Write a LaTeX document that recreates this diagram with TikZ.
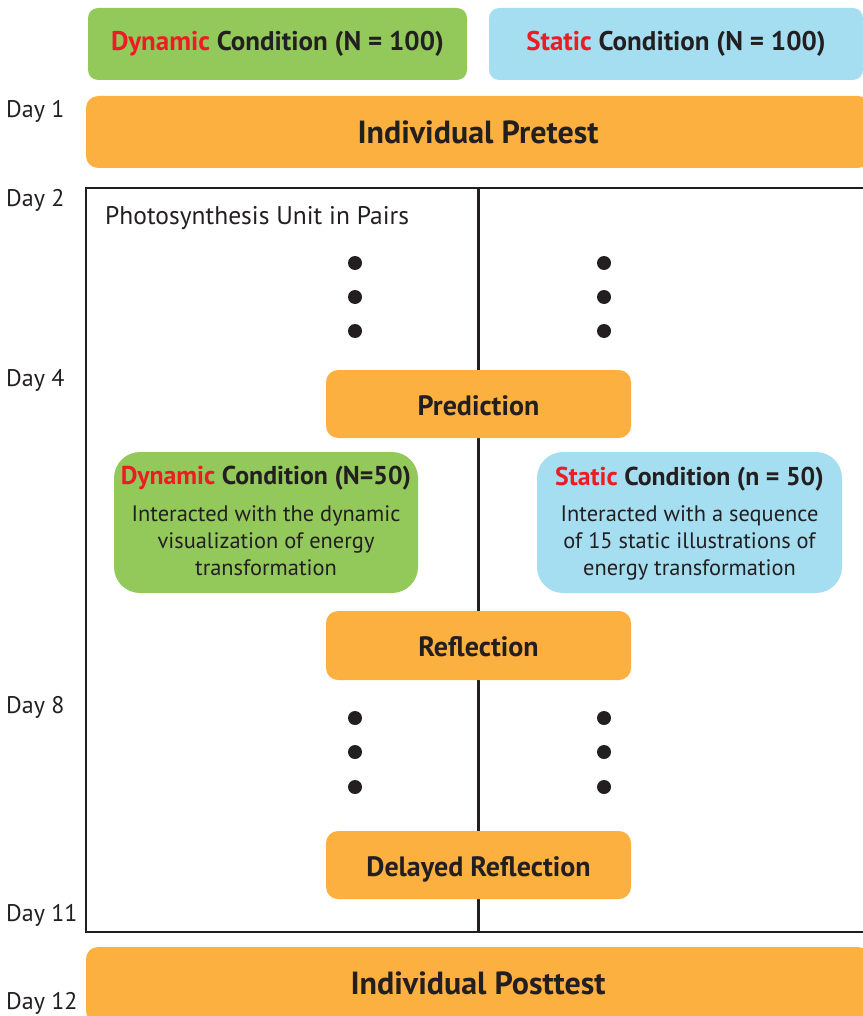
\documentclass[tikz,border=0pt]{standalone}
\usepackage{fontspec}
\setmainfont{PT Sans}
\definecolor{dgreen}{HTML}{93C95B}
\definecolor{lblue}{HTML}{A6DEF1}
\definecolor{orng}{HTML}{FBB040}
\definecolor{redt}{HTML}{ED1C24}
\definecolor{txt}{HTML}{231F20}
\begin{document}
\begin{tikzpicture}[x=1pt,y=-1pt,
  every node/.style={inner sep=0pt, text=txt},
  obox/.style={fill=orng, rounded corners=12pt, text height=24pt, text depth=2pt, font=\bfseries\fontsize{28}{32}\selectfont},
  bigbox/.style={fill=orng, rounded corners=12pt, minimum width=784pt, minimum height=72pt, font=\bfseries\fontsize{32}{36}\selectfont},
  headbox/.style={rounded corners=10pt, minimum height=72pt, font=\bfseries\fontsize{27}{30}\selectfont},
  subbox/.style={rounded corners=26pt, minimum width=304pt, minimum height=141pt},
  subtitle/.style={font=\bfseries\fontsize{25.8}{29}\selectfont},
  subtext/.style={align=center, anchor=north, font=\fontsize{22.4}{27}\selectfont},
  daylbl/.style={anchor=west, font=\fontsize{24}{28}\selectfont},
  dot/.style={circle, fill=txt, minimum size=14pt},
  frame/.style={draw=txt, line width=2pt},
  midline/.style={draw=txt, line width=3pt}
]
\useasboundingbox (0,0) rectangle (862,1016);

% frame and middle line
\coordinate (ftr) at (875,188);
\coordinate (ftl) at (86,188);
\coordinate (fbl) at (86,932);
\coordinate (fbr) at (875,932);
\coordinate (mtop) at (478,188);
\coordinate (mbot) at (478,932);
\draw[frame] (ftr) -- (ftl) -- (fbl) -- (fbr);
\draw[midline] (mtop) -- (mbot);

% header boxes
\node[headbox, fill=dgreen, minimum width=379pt] (dynhead) at (277.5,44) {\textcolor{redt}{Dynamic} Condition (N = 100)};
\node[headbox, fill=lblue, minimum width=374pt] (stathead) at (676,44) {\textcolor{redt}{Static} Condition (N = 100)};

% pretest / posttest
\node[bigbox] (pre) at (478,132) {Individual Pretest};
\node[bigbox, minimum height=76pt] (post) at (478,985) {\raisebox{3pt}{Individual Posttest}};

% day labels
\node[daylbl] (d1) at (6,111) {Day 1};
\node[daylbl] (d2) at (6,200) {Day 2};
\node[daylbl] (d4) at (6,380) {Day 4};
\node[daylbl] (d8) at (6,707) {Day 8};
\node[daylbl] (d11) at (6,915) {Day 11};
\node[daylbl] (d12) at (6,1003) {Day 12};

\node[anchor=west, font=\fontsize{25.5}{29}\selectfont] (unit) at (105,218) {Photosynthesis Unit in Pairs};

% dots
\foreach \y [count=\i] in {263,297,331,718,752,787} {
  \node[dot] (dl\i) at (355,\y) {};
  \node[dot] (dr\i) at (604,\y) {};
}

% orange step boxes
\node[obox, minimum width=305pt, minimum height=68pt] (pred) at (478.5,404) {Prediction};
\node[obox, minimum width=305pt, minimum height=69pt] (refl) at (478.5,645.5) {Reflection};
\node[obox, minimum width=305pt, minimum height=68pt] (delay) at (478.5,865) {Delayed Reflection};

% condition boxes
\node[subbox, fill=dgreen] (dynsub) at (266,522.5) {};
\node[subbox, fill=lblue, minimum width=305pt] (statsub) at (689.5,522.5) {};
\node[subtitle] (dyntitle) at (266,478) {\textcolor{redt}{Dynamic} Condition (N=50)};
\node[subtitle] (stattitle) at (689.5,479) {\textcolor{redt}{Static} Condition (n = 50)};
\node[subtext] (dyntext) at (266,505) {Interacted with the dynamic\\visualization of energy\\transformation};
\node[subtext] (stattext) at (689.5,505) {Interacted with a sequence\\of 15 static illustrations of\\energy transformation};
\end{tikzpicture}
\end{document}
